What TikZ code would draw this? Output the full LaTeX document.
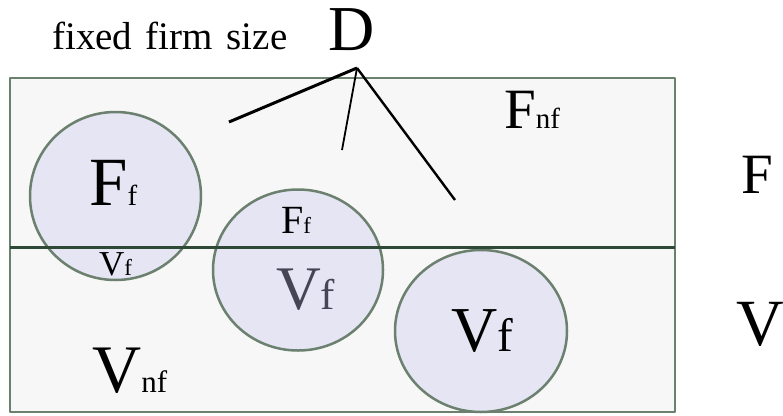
\documentclass[tikz,border=0pt]{standalone}
\usepackage{fontspec}
\setmainfont{Liberation Serif}
\usetikzlibrary{shapes.geometric}

\definecolor{boxgreen}{HTML}{6B806E}
\definecolor{linegreen}{HTML}{2E4A36}
\definecolor{firmfill}{HTML}{E5E5F3}
\definecolor{panelfill}{HTML}{F7F7F7}
\definecolor{dimtext}{HTML}{454555}

\newcommand{\fsz}[2]{{\fontsize{#1}{#1}\selectfont #2}}

\begin{document}
\begin{tikzpicture}[x=1pt, y=-1pt, line join=round,
    txt/.style={anchor=base west, inner sep=0pt},
    firm/.style={ellipse, draw=boxgreen, fill=firmfill, line width=2.5pt, inner sep=0pt}]
    \useasboundingbox (0,0) rectangle (783,415);
    % Panel
    \draw[boxgreen, fill=panelfill, line width=2.8pt] (10,78) rectangle (675,412);
    % Firms
    \node[firm, minimum width=171, minimum height=168] (firmA) at (115.5,196) {};
    \node[firm, minimum width=170, minimum height=161] (firmB) at (298,270) {};
    \node[firm, minimum width=172, minimum height=162] (firmC) at (481,331) {};
    % Divider between F and V
    \coordinate (divL) at (10,247.5);
    \coordinate (divR) at (675,247.5);
    \draw[linegreen, line width=3.5pt] (divL) -- (divR);
    % Labels in the panel
    \node[txt] (Fnf) at (504,128) {\fsz{57}{F}\fsz{29}{nf}};
    \node[txt] (Vnf) at (92,392) {\fsz{68}{V}\fsz{31}{nf}};
    \node[txt] (FfA) at (89,205) {\fsz{69}{F}\fsz{29}{f}};
    \node[txt] (VfA) at (99,275) {\fsz{35}{V}\fsz{23}{f}};
    \node[txt] (FfB) at (281,233) {\fsz{40}{F}\fsz{23}{f}};
    \node[txt, dimtext] (VfB) at (276,309) {\fsz{62}{V}\fsz{43}{f}};
    \node[txt] (VfC) at (451,351) {\fsz{64}{V}\fsz{47}{f}};
    % Side labels
    \node[txt] (Fside) at (741,193) {\fsz{57}{F}};
    \node[txt] (Vside) at (736,345) {\fsz{66}{V}};
    % Title and D
    \node[txt] (title) at (52,49) {\fsz{39}{fixed\hspace{0.35em}firm\hspace{0.35em}size}};
    \node[txt] (D) at (328,50) {\fsz{64}{D}};
    \coordinate (apex) at (357,68);
    \coordinate (toA) at (229,122);
    \coordinate (toB) at (342,150);
    \coordinate (toC) at (455,200);
    \draw[line width=3pt] (apex) -- (toA);
    \draw[line width=1.8pt] (apex) -- (toB);
    \draw[line width=2.4pt] (apex) -- (toC);
\end{tikzpicture}
\end{document}
